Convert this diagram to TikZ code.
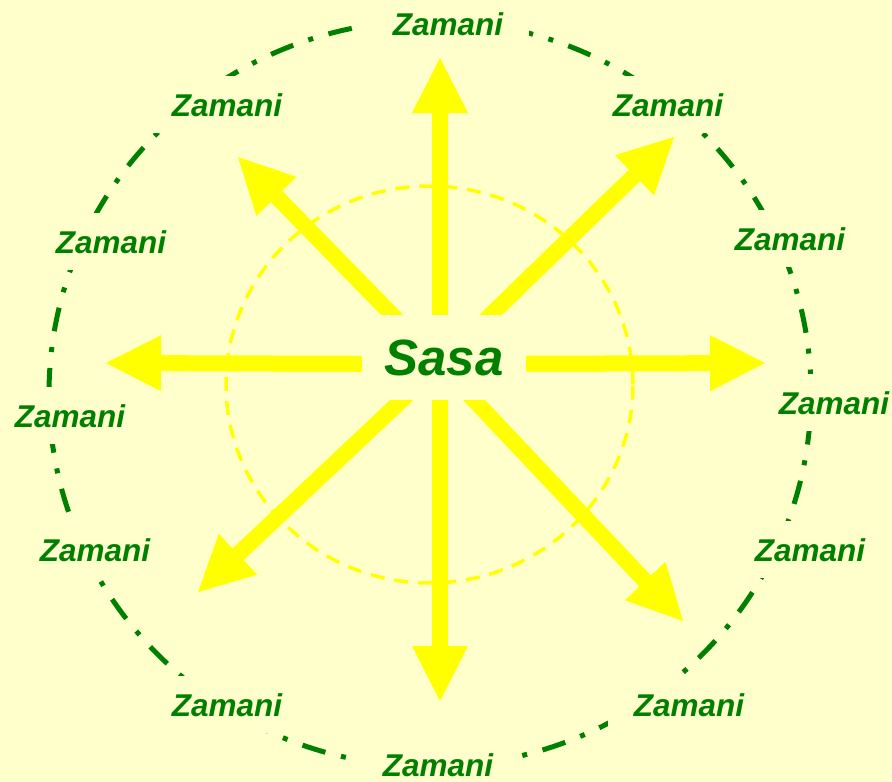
\documentclass[tikz,border=0pt]{standalone}
\usepackage{fontspec}
\setmainfont{Liberation Sans}
\usetikzlibrary{arrows.meta}
\definecolor{bgc}{RGB}{255,255,204}
\definecolor{grn}{RGB}{0,128,0}
\definecolor{ylw}{RGB}{255,255,0}
\begin{document}
\begin{tikzpicture}[x=1pt,y=-1pt,
  bigarrow/.style={draw=ylw, line width=16pt, line cap=butt,
    -{Triangle[length=55pt,width=56pt,line width=0pt]}},
  innerring/.style={draw=ylw, line width=3.5pt, dash pattern=on 14pt off 10pt},
  outerring/.style={draw=grn, line width=5pt, dash pattern=on 24pt off 16pt on 5pt off 16pt},
  lbl/.style={fill=bgc, text=grn, inner xsep=26pt, inner ysep=17pt, anchor=base,
    font=\fontsize{31.5}{36}\selectfont\bfseries\itshape},
  centre/.style={fill=bgc, text=grn, inner sep=0pt, minimum width=164pt, minimum height=85pt,
    font=\fontsize{51}{58}\selectfont\bfseries\itshape}
]
\fill[bgc] (0,0) rectangle (892,782);
\useasboundingbox (0,0) rectangle (892,782);
% inner dashed ring
\draw[innerring] (429.5,384.5) ellipse [x radius=203.5pt, y radius=198.5pt];
% arrows
\coordinate (o) at (440,364);
\coordinate (tN) at (440,58);
\coordinate (tS) at (440,701);
\coordinate (tW) at (106,363);
\coordinate (tE) at (765,363);
\coordinate (tNW) at (238,157);
\coordinate (tNE) at (674,137);
\coordinate (tSW) at (198,592);
\coordinate (tSE) at (683,621);
\foreach \t in {tN,tS,tW,tE,tNW,tNE,tSW,tSE}
  \draw[bigarrow] (o) -- (\t);
\node[centre] (sasa) at (444,357.5) {Sasa};
% outer dash-dot ring
\draw[outerring] (430,393.5) ellipse [x radius=381pt, y radius=373pt];
% labels
\node[lbl] (z1) at (448,35) {Zamani};
\node[lbl] (z2) at (668,116) {Zamani};
\node[lbl] (z3) at (790,250) {Zamani};
\node[lbl] (z4) at (834,414) {Zamani};
\node[lbl] (z5) at (810,561) {Zamani};
\node[lbl] (z6) at (689,716) {Zamani};
\node[lbl] (z7) at (438,776) {Zamani};
\node[lbl] (z8) at (227,716) {Zamani};
\node[lbl] (z9) at (95,561) {Zamani};
\node[lbl] (z10) at (70,427) {Zamani};
\node[lbl] (z11) at (111,253) {Zamani};
\node[lbl] (z12) at (227,116) {Zamani};
\end{tikzpicture}
\end{document}
